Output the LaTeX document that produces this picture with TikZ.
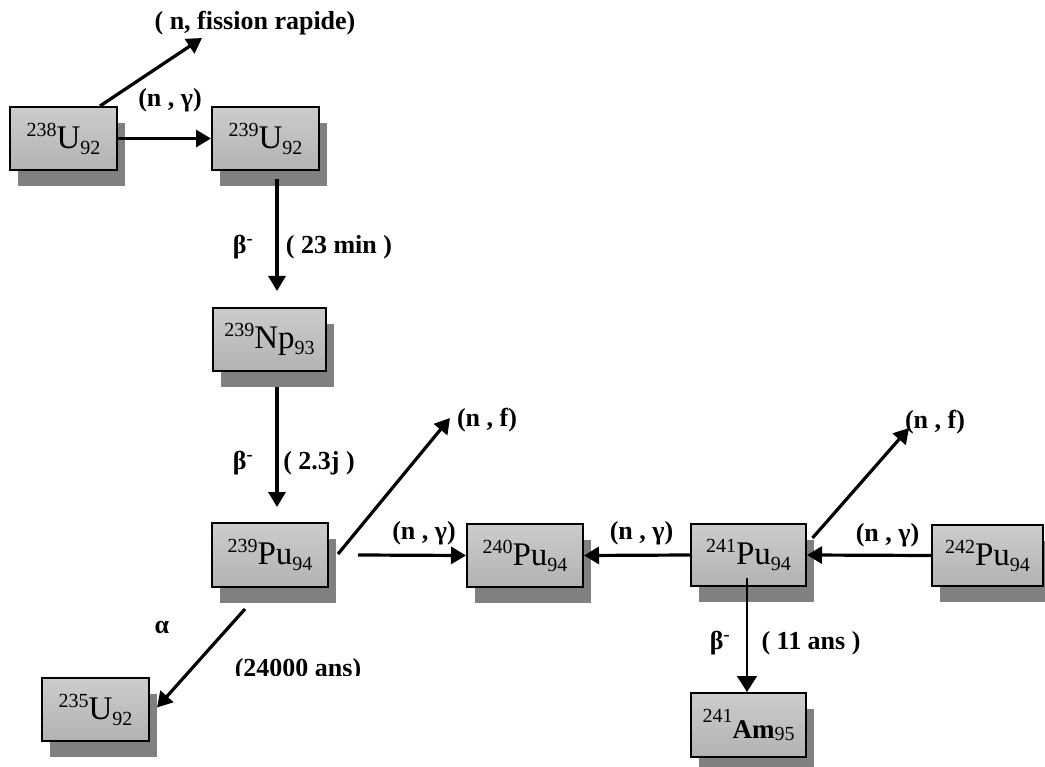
\documentclass[tikz,border=0pt]{standalone}
\usepackage{fontspec}
\setmainfont{Liberation Serif}
\usetikzlibrary{arrows.meta,calc,shadows}

% nuclide: mass number up, element, charge number down
\newcommand\nucl[3]{\raisebox{12pt}{\fontsize{20}{20}\selectfont #1}#2\raisebox{-6pt}{\fontsize{20}{20}\selectfont #3}}

\tikzset{
  nuc/.style={draw, line width=2pt, rectangle, inner sep=0pt,
    top color=black!20, middle color=black!4, bottom color=black!30,
    general shadow={fill=black!50, shadow xshift=8pt, shadow yshift=-16pt},
    font=\fontsize{33}{33}\selectfont},
  lbl/.style={inner sep=0pt, font=\bfseries\fontsize{26}{26}\selectfont},
  arr/.style={line width=3.2pt, -{Triangle[length=15pt,width=17pt]}},
  thinarr/.style={line width=1.4pt, -{Triangle[length=16pt,width=20pt]}}
}

\begin{document}
\begin{tikzpicture}[x=1pt,y=-1pt]
\useasboundingbox (0,0) rectangle (1045,767);

% nuclides
\node[nuc, minimum width=107pt, minimum height=63pt] (U238)  at (63.5,138.5) {\nucl{238}{U}{92}};
\node[nuc, minimum width=107pt, minimum height=63pt] (U239)  at (265.5,138.5) {\nucl{239}{U}{92}};
\node[nuc, minimum width=113pt, minimum height=63pt] (Np239) at (269.5,339.5) {\nucl{239}{Np}{93}};
\node[nuc, minimum width=116pt, minimum height=64pt] (Pu239) at (270,555) {\nucl{239}{Pu}{94}};
\node[nuc, minimum width=116pt, minimum height=63pt] (Pu240) at (525,555.5) {\nucl{240}{Pu}{94}};
\node[nuc, minimum width=115pt, minimum height=62pt] (Pu241) at (748.5,555) {\nucl{241}{Pu}{94}};
\node[nuc, minimum width=111pt, minimum height=61pt] (Pu242) at (987.5,555.5) {\nucl{242}{Pu}{94}};
\node[nuc, minimum width=107pt, minimum height=63pt] (U235)  at (95.5,709.5) {\nucl{235}{U}{92}};
\node[nuc, minimum width=115pt, minimum height=64pt] (Am241) at (748.5,725)
  {\raisebox{16pt}{\fontsize{20}{20}\selectfont 241}{\bfseries\fontsize{27}{27}\selectfont Am}\raisebox{-2pt}{\fontsize{20}{20}\selectfont 95}};

% free ends of the fission arrows
\coordinate (fisA) at (202,38);
\coordinate (fisB) at (450,418);
\coordinate (fisC) at (909,428);

% reaction and decay labels
\node[lbl] (tFisA) at (255,23) {( n, fission rapide)};
\node[lbl] (tNgA)  at (170,100) {(n , γ)};
\node[lbl] (tB1)   at (243,247) {β\textsuperscript{-}};
\node[lbl] (tT1)   at (339,247) {( 23 min )};
\node[lbl] (tB2)   at (243,463) {β\textsuperscript{-}};
\node[lbl] (tT2)   at (319,463) {( 2.3j )};
\node[lbl] (tFisB) at (487,420) {(n , f)};
\node[lbl] (tNgB)  at (424,533) {(n , γ)};
\node[lbl] (tNgC)  at (641.5,533) {(n , γ)};
\node[lbl] (tNgD)  at (887.5,535) {(n , γ)};
\node[lbl] (tFisC) at (935,422) {(n , f)};
\node[lbl] (tAl)   at (162,627) {α};
\node[lbl] (tB3)   at (720,643) {β\textsuperscript{-}};
\node[lbl] (tT3)   at (811,643) {( 11 ans )};
\begin{scope}
  \clip (215,640) rectangle (380,675);
  \node[lbl] (tT4) at (298,670) {(24000 ans)};
\end{scope}

% connectors
\draw[arr] ($(U238.north)+(36.5,0)$) -- (fisA);
\draw[arr] (U238.east) -- (U239.west);
\draw[arr] ($(U239.south)+(11.5,8)$) -- ($(Np239.north)+(7.5,-16)$);
\draw[arr] ($(Np239.south)+(7.5,15)$) -- ($(Pu239.north)+(7,-15)$);
\draw[arr] ($(Pu239.east)+(9,-1)$) -- (fisB);
\draw[arr] ($(Pu239.east)+(29,0)$) -- (Pu240.west);
\draw[arr] ($(Pu239.south)+(-25,21)$) -- ($(U235.east)+(7,-2)$);
\draw[arr] (Pu241.west) -- (Pu240.east);
\draw[arr] (Pu242.west) -- (Pu241.east);
\draw[arr] ($(Pu241.east)+(5.5,-17)$) -- (fisC);
\draw[thinarr] ($(Pu241.center)+(-1.5,23)$) -- ($(Am241.north)+(-1.5,0)$);
\end{tikzpicture}
\end{document}
